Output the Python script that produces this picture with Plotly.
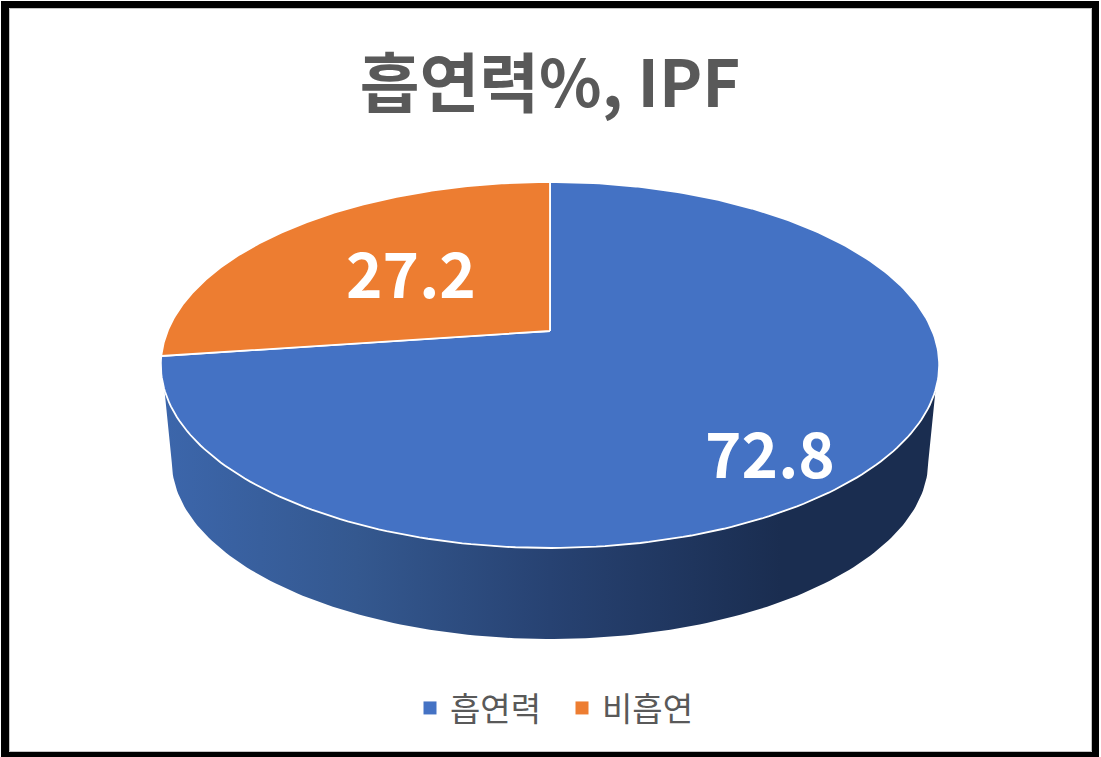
import numpy as np
import plotly.graph_objects as go

categories = ["흡연력", "비흡연"]
values = [72.8, 27.2]
value_labels = ["72.8", "27.2"]
colors = ["#4472C4", "#ED7D31"]
title_text = "흡연력%, IPF"

FONT = "Noto Sans CJK KR"
GREY = "#595959"
W, H = 1101, 757

# projective view of a tilted disc, in page pixels
CX, CY, A, B, K = 550.0, 331.0, 382.4, 176.7, 0.1857
BOT_S, BOT_CY = 0.972, 428.0


def rim(deg, scale=1.0, cy=CY):
    t = np.radians(deg)
    u, v = np.sin(t), np.cos(t)
    d = 1 + K * v
    return CX + scale * A * u / d, cy - scale * B * v / d


fig = go.Figure()

# side wall
tx, ty = rim(np.linspace(108.3, 251.7, 160))
bx, by = rim(np.linspace(259, 101, 160), BOT_S, BOT_CY)
fig.add_trace(go.Scatter(
    x=np.r_[tx, bx], y=np.r_[ty, by], mode="lines", fill="toself",
    line=dict(width=0, color="rgba(0,0,0,0)"),
    fillgradient=dict(type="horizontal", colorscale=[
        [0.0, "#3C66AB"], [0.25, "#34588F"], [0.5, "#274272"],
        [0.8, "#1A2D50"], [1.0, "#1A2D50"]]),
    showlegend=False, hoverinfo="skip"))

# top face slices, clockwise from twelve o'clock
start = 0.0
total = sum(values)
for name, val, col in zip(categories, values, colors):
    end = start + 360.0 * val / total
    x, y = rim(np.linspace(start, end, 240))
    fig.add_trace(go.Scatter(
        x=np.r_[CX, x, CX], y=np.r_[CY, y, CY], mode="lines", fill="toself",
        fillcolor=col, line=dict(color="white", width=1.8),
        showlegend=False, name=name, hoverinfo="name"))
    start = end

# legend keys
for name, col in zip(categories, colors):
    fig.add_trace(go.Scatter(
        x=[None], y=[None], mode="markers", name=name,
        marker=dict(symbol="square", size=13, color=col)))

frame = [(1, 1, 1099, 8), (1, 1, 9, 757), (1092, 1, 1099, 757), (1, 752, 1099, 757)]
shapes = [dict(type="rect", xref="x", yref="y", x0=a, y0=b, x1=c, y1=d,
               fillcolor="black", line=dict(width=0), layer="above")
          for a, b, c, d in frame]
shapes.append(dict(type="rect", xref="x", yref="y", x0=9.5, y0=8.5, x1=1091.5, y1=751.5,
                   line=dict(color="#C4C4C4", width=1), layer="above"))

annotations = [
    dict(x=770, y=451, text=value_labels[0]),
    dict(x=411, y=271, text=value_labels[1]),
]
for an in annotations:
    an.update(xref="x", yref="y", showarrow=False,
              font=dict(family=FONT, size=62, color="white", weight="bold"))

fig.update_layout(
    width=W, height=H, margin=dict(l=0, r=0, t=0, b=0),
    paper_bgcolor="white", plot_bgcolor="white",
    xaxis=dict(range=[0, W], visible=False, fixedrange=True),
    yaxis=dict(range=[H, 0], visible=False, fixedrange=True),
    title=dict(text=title_text, x=550 / W, xanchor="center", y=1 - 84 / H,
               yanchor="middle", font=dict(family=FONT, size=65, color=GREY, weight="bold")),
    legend=dict(orientation="h", x=410 / W, xanchor="left", y=1 - 708 / H, yanchor="middle",
                entrywidth=107, entrywidthmode="pixels",
                font=dict(family=FONT, size=33, color=GREY), bgcolor="rgba(0,0,0,0)"),
    shapes=shapes, annotations=annotations,
)
fig.write_html("out.html", config={"displayModeBar": False},
               post_script="document.body.style.margin='0';")
